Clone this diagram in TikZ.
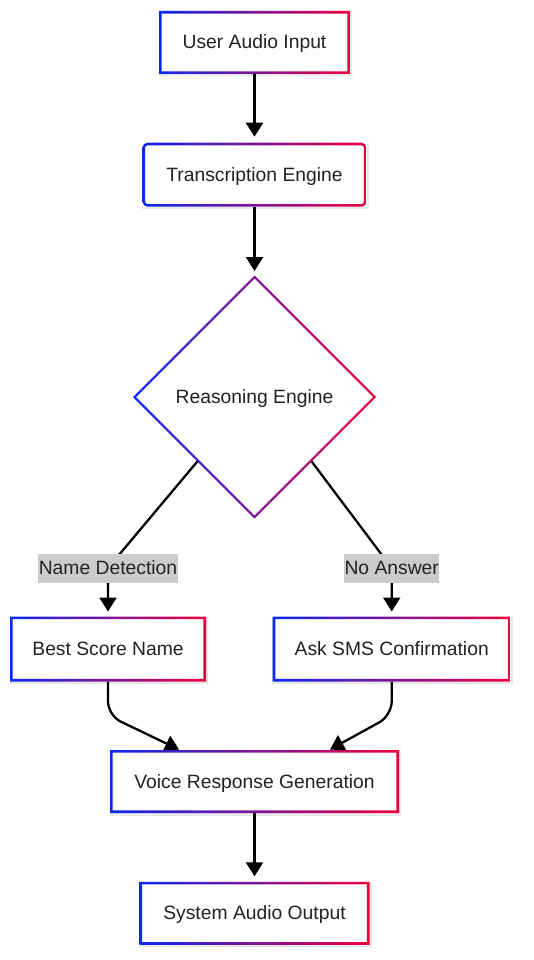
\documentclass[tikz,border=0pt]{standalone}
\usepackage{fontspec}
\setmainfont{Liberation Sans}
\usetikzlibrary{arrows.meta,calc,shapes.geometric}
\definecolor{gB}{RGB}{10,40,240}
\definecolor{gR}{RGB}{240,0,60}
\definecolor{txt}{RGB}{34,34,34}
\definecolor{lblfill}{RGB}{204,204,204}
\pgfdeclarelayer{back}
\pgfsetlayers{back,main}
\begin{document}
\begin{tikzpicture}[x=1pt,y=-1pt,
  box/.style={inner sep=0pt, outer sep=0pt, fill=white, text=txt, text height=15pt, text depth=2pt, font=\fontsize{19.3}{23}\selectfont},
  dia/.style={diamond, aspect=1, inner sep=0pt, outer sep=0pt, fill=white, text=txt, text height=15pt, text depth=2pt, font=\fontsize{19.3}{23}\selectfont},
  lbl/.style={fill=lblfill, inner xsep=0.5pt, inner ysep=0pt, minimum height=29pt, text height=15pt, text depth=2pt, text=txt, font=\fontsize{19.3}{23}\selectfont},
  grad/.style={left color=gB, right color=gR},
  conn/.style={draw=black, line width=2.3pt, -{Triangle[width=17pt,length=14pt]}},
  shad/.style={fill=black!9}]
\useasboundingbox (0,0) rectangle (533,960);

% nodes
\node[box, minimum width=191pt, minimum height=63pt] (n1) at (254.5,42.5) {User Audio Input};
\node[box, minimum width=224pt, minimum height=64pt] (n2) at (254.5,174.7) {Transcription Engine};
\node[dia, minimum width=243pt, minimum height=243pt] (n3) at (254.5,397) {Reasoning Engine};
\node[box, minimum width=196pt, minimum height=65pt] (n4) at (108,649) {Best Score Name};
\node[box, minimum width=238pt, minimum height=65pt] (n5) at (391.7,649) {Ask SMS Confirmation};
\node[box, minimum width=289pt, minimum height=63pt] (n6) at (254.5,781.5) {Voice Response Generation};
\node[box, minimum width=230pt, minimum height=63pt] (n7) at (254.5,913.3) {System Audio Output};

% background and shadows
\begin{pgfonlayer}{back}
  \fill[white] (0,0) rectangle (533,960);
  \foreach \n in {n1,n2,n4,n5,n6,n7}{
    \fill[shad] ($(\n.south west)+(-0.5,2.5)$) rectangle ($(\n.north east)+(2,0.5)$);
  }
\end{pgfonlayer}

% connectors
\draw[conn, shorten >=6pt] (n1.south) -- (n2.north);
\draw[conn, shorten >=4.5pt] (n2.south) -- (n3.north);
\draw[conn, shorten >=5pt] ($(n3.west)!0.53!(n3.south)$) -- ($(n4.north)+(0,-48.5)$)
  node[lbl] (l1) {Name Detection} -- (n4.north);
\draw[conn, shorten >=5pt] ($(n3.east)!0.53!(n3.south)$) -- ($(n5.north)+(0,-48.5)$)
  node[lbl] (l2) {No Answer} -- (n5.north);
\draw[conn, shorten >=1pt, rounded corners=14pt] (n4.south) -- ++(0,34)
  -- ($(n6.north west)!0.242!(n6.north east)$);
\draw[conn, shorten >=1pt, rounded corners=14pt] (n5.south) -- ++(0,34)
  -- ($(n6.north west)!0.758!(n6.north east)$);
\draw[conn, shorten >=5.5pt] (n6.south) -- (n7.north);

% gradient borders
\foreach \n in {n1,n4,n5,n6,n7}{
  \shade[grad, even odd rule] (\n.south west) rectangle (\n.north east)
    ($(\n.south west)+(2.6,-2.6)$) rectangle ($(\n.north east)+(-2.6,2.6)$);
}
\shade[grad, even odd rule, rounded corners=5pt] (n2.south west) rectangle (n2.north east)
  [rounded corners=2.5pt] ($(n2.south west)+(2.6,-2.6)$) rectangle ($(n2.north east)+(-2.6,2.6)$);
\shade[grad, even odd rule] (n3.north) -- (n3.east) -- (n3.south) -- (n3.west) -- cycle
  ($(n3.center)+(0,-118.5)$) -- ($(n3.center)+(118.5,0)$) -- ($(n3.center)+(0,118.5)$) -- ($(n3.center)+(-118.5,0)$) -- cycle;
\end{tikzpicture}
\end{document}
